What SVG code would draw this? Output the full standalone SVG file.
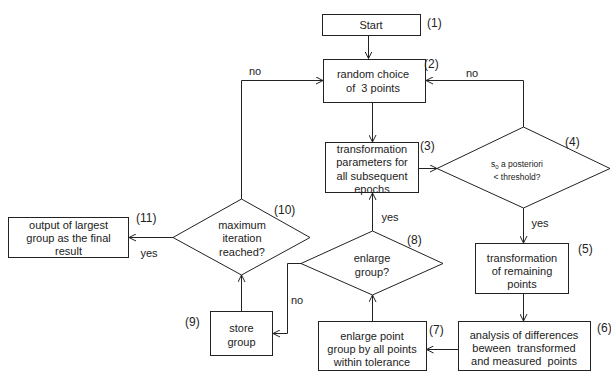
<svg xmlns="http://www.w3.org/2000/svg" width="611" height="372" viewBox="0 0 611 372">
<defs>
<marker id="ah" markerWidth="8" markerHeight="8" refX="7" refY="4" orient="auto" markerUnits="userSpaceOnUse">
<path d="M0,0.5 L7,4 L0,7.5" fill="none" stroke="#222" stroke-width="1"/>
</marker>
</defs>
<style>
.b{fill:#fff;stroke:#222;stroke-width:1}
.t{font-family:"Liberation Sans",Arial,sans-serif;font-size:11px;fill:#222;text-anchor:middle;white-space:pre}
.s{font-family:"Liberation Sans",Arial,sans-serif;font-size:8.5px;fill:#222;text-anchor:middle;white-space:pre}
.l{font-family:"Liberation Sans",Arial,sans-serif;font-size:12px;fill:#222;white-space:pre}
.c{fill:none;stroke:#222;stroke-width:1;marker-end:url(#ah)}
</style>
<rect width="611" height="372" fill="#fff"/>
<g id="connectors">
<path class="c" d="M368.5,35 V58.5"/>
<path class="c" d="M372.5,102 V142"/>
<path class="c" d="M418,168.5 H437"/>
<path class="c" d="M523.5,127 V80.5 H426"/>
<path class="c" d="M523.5,208 V243"/>
<path class="c" d="M523.5,293 V321"/>
<path class="c" d="M458,349.5 H426.5"/>
<path class="c" d="M372.5,321 V295"/>
<path class="c" d="M372.5,231 V193"/>
<path class="c" d="M301,263.5 H287.5 V333.5 H273"/>
<path class="c" d="M241.5,311 V275"/>
<path class="c" d="M241.5,199 V80.5 H323"/>
<path class="c" d="M173,237.5 H129"/>
</g>
<g id="n1">
<rect class="b" x="322.5" y="14.5" width="98" height="21"/>
<text class="t" x="371" y="29">Start</text>
<text class="l" x="427" y="27">(1)</text>
</g>
<g id="n2">
<rect class="b" x="323.5" y="59.5" width="102" height="43"/>
<text class="t" x="373" y="78">random choice</text>
<text class="t" x="373" y="92">of  3 points</text>
<text class="l" x="424" y="68">(2)</text>
</g>
<g id="n3">
<rect class="b" x="325.5" y="142.5" width="93" height="50"/>
<text class="t" x="372" y="153">transformation</text>
<text class="t" x="372" y="166">parameters for</text>
<text class="t" x="372" y="180">all subsequent</text>
<text class="t" x="372" y="193">epochs</text>
<text class="l" x="420" y="150">(3)</text>
</g>
<g id="n4">
<polygon class="b" points="437,168.5 523.5,127 610,168.5 523.5,208"/>
<text class="s" x="517" y="167">s<tspan font-size="6" dy="1.5">0</tspan><tspan dy="-1.5"> a posteriori</tspan></text>
<text class="s" x="517" y="180">&lt; threshold?</text>
<text class="l" x="565" y="146">(4)</text>
</g>
<g id="n5">
<rect class="b" x="475.5" y="243.5" width="93" height="50"/>
<text class="t" x="522" y="262">transformation</text>
<text class="t" x="522" y="275">of remaining</text>
<text class="t" x="522" y="288">points</text>
<text class="l" x="578" y="253">(5)</text>
</g>
<g id="n6">
<rect class="b" x="458.5" y="321.5" width="132" height="49"/>
<text class="t" x="524" y="339">analysis of differences</text>
<text class="t" x="524" y="352">beween  transformed</text>
<text class="t" x="524" y="365">and measured  points</text>
<text class="l" x="597" y="332">(6)</text>
</g>
<g id="n7">
<rect class="b" x="318.5" y="321.5" width="108" height="49"/>
<text class="t" x="372" y="340">enlarge point</text>
<text class="t" x="372" y="353">group by all points</text>
<text class="t" x="372" y="366">within tolerance</text>
<text class="l" x="429" y="334">(7)</text>
</g>
<g id="n8">
<polygon class="b" points="301,263.5 372.5,231 443,263.5 372.5,295"/>
<text class="t" x="372" y="262">enlarge</text>
<text class="t" x="372" y="276">group?</text>
<text class="l" x="407" y="244">(8)</text>
</g>
<g id="n9">
<rect class="b" x="210.5" y="311.5" width="62" height="44"/>
<text class="t" x="241.5" y="332">store</text>
<text class="t" x="241.5" y="346">group</text>
<text class="l" x="185" y="326">(9)</text>
</g>
<g id="n10">
<polygon class="b" points="173,237.5 241.5,199 310,237.5 241.5,275"/>
<text class="t" x="242" y="229">maximum</text>
<text class="t" x="242" y="242">iteration</text>
<text class="t" x="242" y="256">reached?</text>
<text class="l" x="274" y="214">(10)</text>
</g>
<g id="n11">
<rect class="b" x="8.5" y="217.5" width="120" height="40"/>
<text class="t" x="68.5" y="229">output of largest</text>
<text class="t" x="68.5" y="242">group as the final</text>
<text class="t" x="68.5" y="255">result</text>
<text class="l" x="136" y="222">(11)</text>
</g>
<g id="labels">
<text class="t" x="255" y="75">no</text>
<text class="t" x="472" y="77">no</text>
<text class="t" x="540" y="227">yes</text>
<text class="t" x="390" y="221">yes</text>
<text class="t" x="297" y="304">no</text>
<text class="t" x="149" y="257">yes</text>
</g>
</svg>
